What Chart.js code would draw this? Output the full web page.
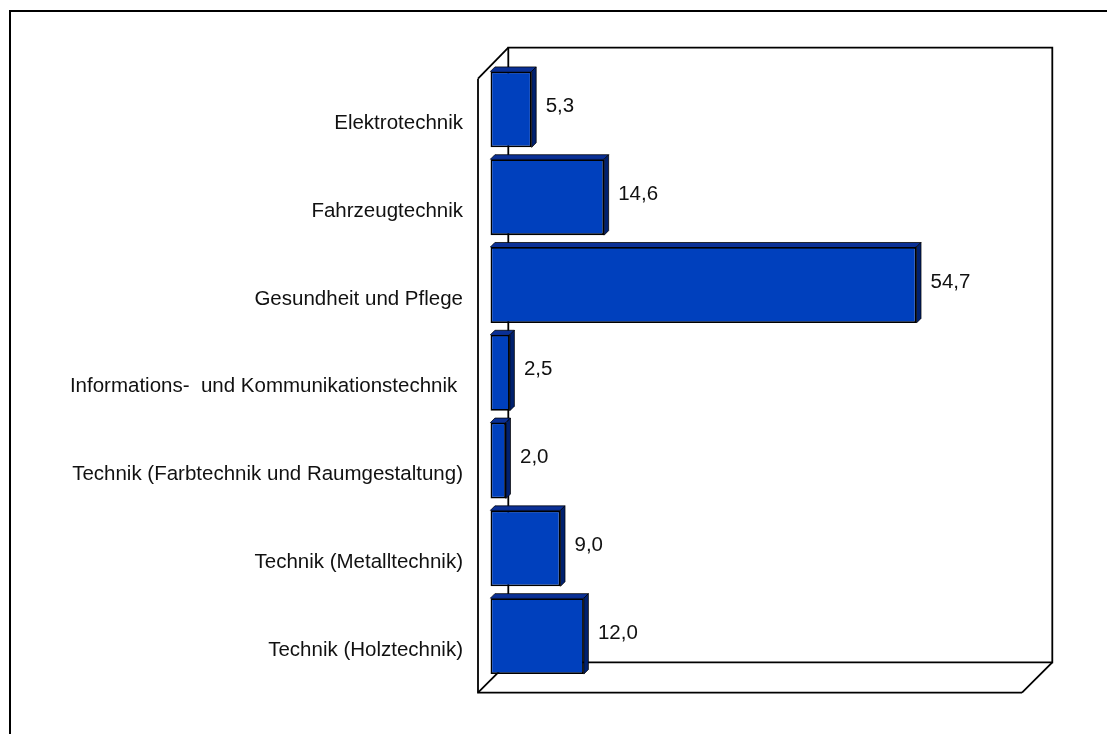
<!DOCTYPE html>
<html>
<head>
<meta charset="utf-8">
<style>
  html, body { margin: 0; padding: 0; background: #fff; }
  canvas { display: block; }
</style>
<script src="https://cdn.jsdelivr.net/npm/chart.js@4"></script>
</head>
<body>
<canvas id="barChart" width="1107" height="734"></canvas>
<script>
const categories = [
    "Elektrotechnik",
    "Fahrzeugtechnik",
    "Gesundheit und Pflege",
    "Informations-  und Kommunikationstechnik ",
    "Technik (Farbtechnik und Raumgestaltung)",
    "Technik (Metalltechnik)",
    "Technik (Holztechnik)"
];
const values = [5.3, 14.6, 54.7, 2.5, 2.0, 9.0, 12.0];
const axisMax = 70;

const FONT_SIZE = 20.5;
const FONT_FAMILY = '"Liberation Sans", Arial, sans-serif';
const BAR_FRONT = "#0040BD";
const BAR_TOP = "#0A3096";
const BAR_SIDE = "#00206E";
const BAR_DEPTH = 4.5;

function line(ctx, points) {
    ctx.beginPath();
    points.forEach((p, i) => i ? ctx.lineTo(p[0], p[1]) : ctx.moveTo(p[0], p[1]));
    ctx.stroke();
}

// outer frame and the 3d box behind the bars, then the bar depth faces
const box3d = {
    id: "box3d",
    beforeDatasetsDraw(chart) {
        const ctx = chart.ctx, a = chart.chartArea;
        const fl = a.left - 12.4, fr = a.right - 13.7, ft = a.top + 13.2, fb = a.bottom + 12.7;
        const bl = a.left + 17.9, br = a.right + 16.6, bt = a.top - 17.8, bb = a.bottom - 17.7;
        ctx.save();
        ctx.strokeStyle = "#000";
        ctx.lineWidth = 2;
        line(ctx, [[10, 734], [10, 11], [1107, 11]]);
        ctx.lineWidth = 1.8;
        line(ctx, [[bl, bb], [bl, bt], [br, bt], [br, bb], [bl, bb]]);
        line(ctx, [[fl, ft], [bl, bt]]);
        line(ctx, [[fl, fb], [bl, bb]]);
        line(ctx, [[fr, fb], [br, bb]]);
        line(ctx, [[fl, ft], [fl, fb], [fr, fb]]);

        chart.getDatasetMeta(0).data.forEach(bar => {
            const top = bar.y - bar.height / 2, bottom = bar.y + bar.height / 2;
            ctx.lineWidth = 0.75;
            ctx.fillStyle = BAR_TOP;
            ctx.beginPath();
            ctx.moveTo(bar.base, top);
            ctx.lineTo(bar.base + BAR_DEPTH, top - BAR_DEPTH);
            ctx.lineTo(bar.x + BAR_DEPTH, top - BAR_DEPTH);
            ctx.lineTo(bar.x, top);
            ctx.closePath();
            ctx.fill();
            ctx.stroke();
            // runs a little under the bar so the wall line can't show at its edge
            ctx.fillRect(bar.base + 1, top - 1, bar.x - bar.base - 2, 3);
            ctx.fillStyle = BAR_SIDE;
            ctx.beginPath();
            ctx.moveTo(bar.x, top);
            ctx.lineTo(bar.x + BAR_DEPTH, top - BAR_DEPTH);
            ctx.lineTo(bar.x + BAR_DEPTH, bottom - BAR_DEPTH);
            ctx.lineTo(bar.x, bottom);
            ctx.closePath();
            ctx.fill();
            ctx.stroke();
        });
        ctx.restore();
    }
};

const valueLabels = {
    id: "valueLabels",
    afterDatasetsDraw(chart) {
        const ctx = chart.ctx;
        ctx.save();
        ctx.font = FONT_SIZE + "px " + FONT_FAMILY;
        ctx.fillStyle = "#111";
        ctx.textAlign = "left";
        ctx.textBaseline = "middle";
        chart.getDatasetMeta(0).data.forEach((bar, i) => {
            ctx.fillText(values[i].toFixed(1).replace(".", ","), bar.x + 14, bar.y - 3);
        });
        ctx.restore();
    }
};

new Chart(document.getElementById("barChart"), {
    type: "bar",
    data: {
        labels: categories,
        datasets: [{
            data: values,
            backgroundColor: BAR_FRONT,
            borderColor: "#000",
            borderWidth: 1.8,
            borderSkipped: false,
            barPercentage: 0.865,
            categoryPercentage: 1
        }]
    },
    options: {
        indexAxis: "y",
        responsive: false,
        animation: false,
        layout: { padding: { top: 65.5, bottom: 54, right: 71.3, left: 0 } },
        plugins: { legend: { display: false }, tooltip: { enabled: false }, title: { display: false } },
        scales: {
            x: { display: false, min: 0, max: axisMax },
            y: {
                afterFit(scale) { scale.width = 490.4; },
                border: { display: false },
                grid: { display: false, drawTicks: false },
                ticks: {
                    color: "#111",
                    font: { family: FONT_FAMILY, size: FONT_SIZE },
                    padding: 27.4,
                    labelOffset: 14,
                    autoSkip: false
                }
            }
        }
    },
    plugins: [box3d, valueLabels]
});
</script>
</body>
</html>
